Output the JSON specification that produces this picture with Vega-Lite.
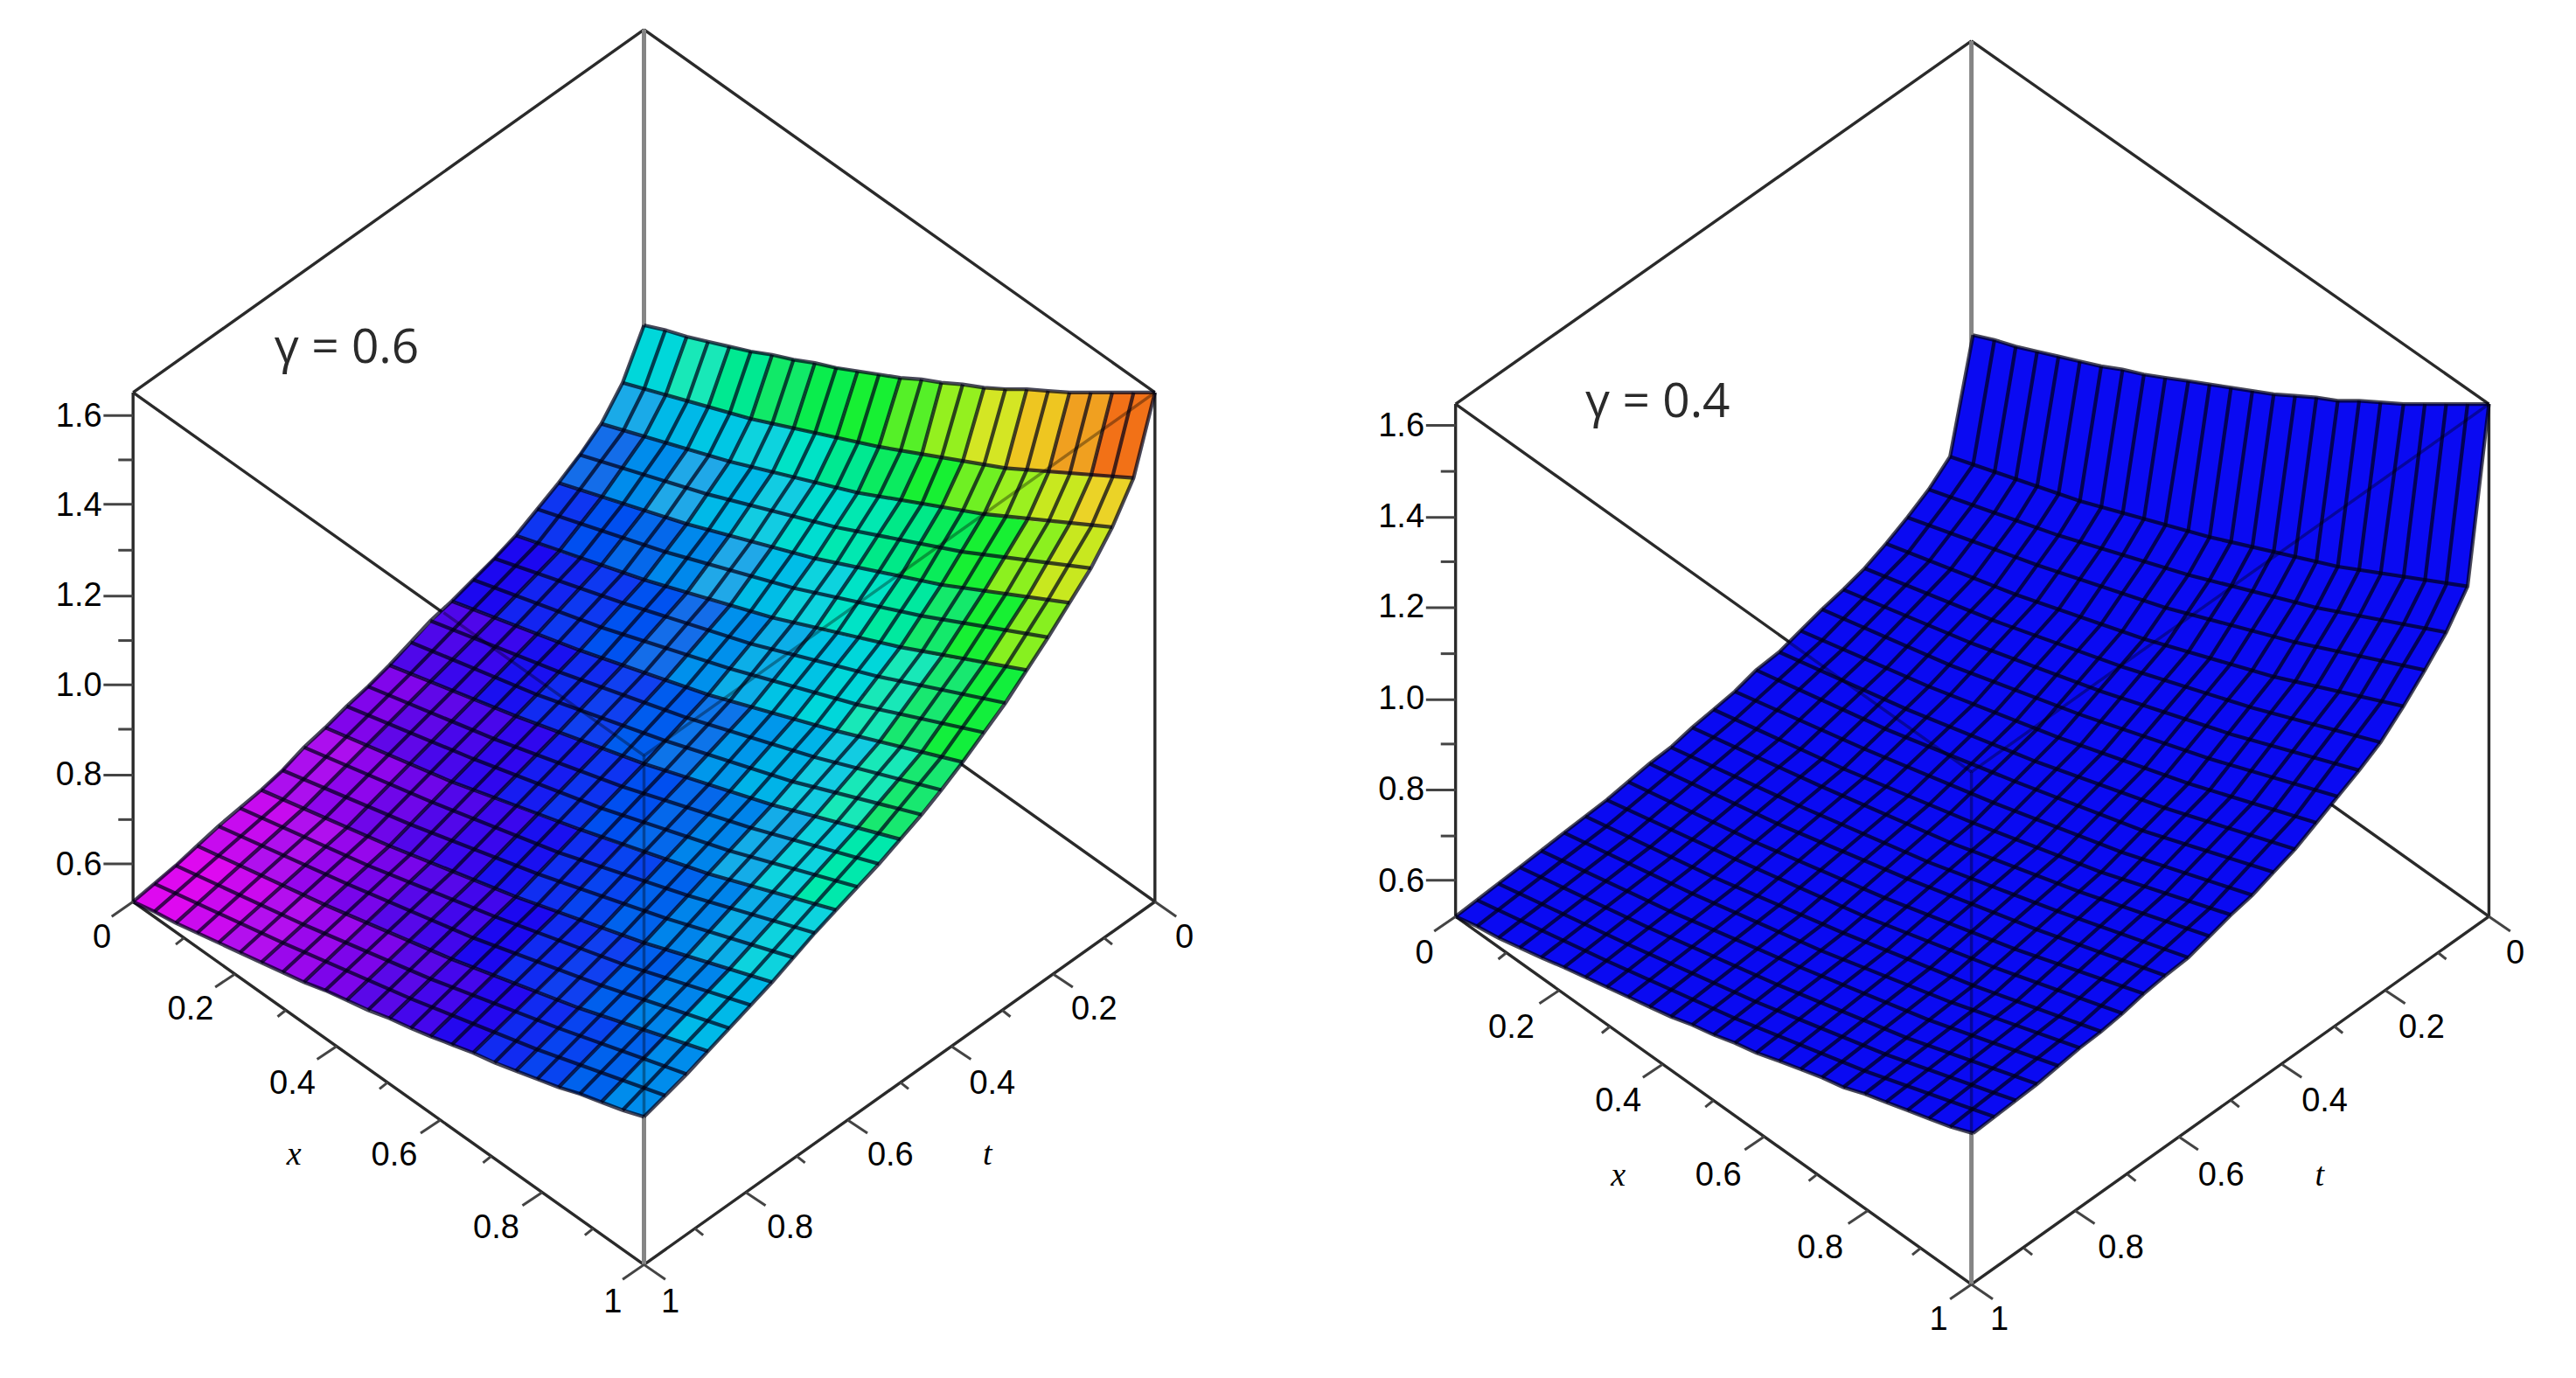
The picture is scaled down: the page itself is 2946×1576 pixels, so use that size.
{
"$schema":"https://vega.github.io/schema/vega-lite/v6.json",
"width":2946,"height":1576,"padding":0,"autosize":{"type":"fit","contains":"padding"},"background":"white",
"config":{"view":{"stroke":null}},
"encoding":{
"x":{"field":"x","type":"quantitative","axis":null,"scale":{"domain":[0,1568],"nice":false,"zero":false}},
"y":{"field":"y","type":"quantitative","axis":null,"scale":{"domain":[839,0],"nice":false,"zero":false}}
},
"layer":[
{"data":{"values":[
{"id":"a1","x":[392,81],"y":[18,239]},{"id":"a2","x":[392,703],"y":[18,239]},{"id":"a3","x":[81,392],"y":[239,460]},{"id":"a4","x":[703,392],"y":[549,328]},
{"id":"b1","x":[1200,886],"y":[25,246]},{"id":"b2","x":[1200,1515],"y":[25,246]},{"id":"b3","x":[886,1200],"y":[246,470]},{"id":"b4","x":[1515,1200],"y":[558,334]},
{"id":"a5","x":[81,81],"y":[239,549]},{"id":"a6","x":[703,703],"y":[239,549]},{"id":"a7","x":[81,392],"y":[549,770]},{"id":"a8","x":[703,392],"y":[549,770]},
{"id":"b5","x":[886,886],"y":[246,558]},{"id":"b6","x":[1515,1515],"y":[246,558]},{"id":"b7","x":[886,1200],"y":[558,782]},{"id":"b8","x":[1515,1200],"y":[558,782]}
]},"transform":[{"flatten":["x","y"]}],"mark":{"type":"line","order":null,"stroke":"#2a2a2a","strokeWidth":3.4},"encoding":{"detail":{"field":"id"}}},
{"data":{"values":[
{"id":"g1","x":[392,392],"y":[18,328]},{"id":"g2","x":[392,392],"y":[680,770]},{"id":"g3","x":[1200,1200],"y":[25,334]},{"id":"g4","x":[1200,1200],"y":[690,782]}
]},"transform":[{"flatten":["x","y"]}],"mark":{"type":"line","order":null,"stroke":"#858585","strokeWidth":5},"encoding":{"detail":{"field":"id"}}},
{"data":{"values":[
{"id":1,"h":125,"x":[392,418,405,379],"y":[198,205,241,233]},{"id":2,"h":140,"x":[418,444,431,405],"y":[205,211,248,241]},{"id":3,"h":155,"x":[444,470,457,431],"y":[211,216,255,248]},{"id":4,"h":170,"x":[470,496,483,457],"y":[216,221,261,255]},{"id":5,"h":185,"x":[496,522,509,483],"y":[221,226,267,261]},{"id":6,"h":195,"x":[522,548,535,509],"y":[226,230,272,267]},{"id":7,"h":205,"x":[548,573,561,535],"y":[230,233,277,272]},{"id":8,"h":225,"x":[573,599,586,561],"y":[233,236,281,277]},{"id":9,"h":250,"x":[599,625,612,586],"y":[236,237,285,281]},{"id":10,"h":270,"x":[625,651,638,612],"y":[237,239,288,285]},{"id":11,"h":285,"x":[651,677,664,638],"y":[239,239,290,288]},{"id":12,"h":300,"x":[677,703,690,664],"y":[239,239,291,290]},
{"id":13,"h":101,"x":[379,405,392,366],"y":[233,241,266,258]},{"id":14,"h":108,"x":[405,431,418,392],"y":[241,248,274,266]},{"id":15,"h":115,"x":[431,457,444,418],"y":[248,255,281,274]},{"id":16,"h":122,"x":[457,483,470,444],"y":[255,261,288,281]},{"id":17,"h":135,"x":[483,509,496,470],"y":[261,267,294,288]},{"id":18,"h":155,"x":[509,535,522,496],"y":[267,272,300,294]},{"id":19,"h":175,"x":[535,561,548,522],"y":[272,277,305,300]},{"id":20,"h":195,"x":[561,586,573,548],"y":[277,281,309,305]},{"id":21,"h":212,"x":[586,612,599,573],"y":[281,285,313,309]},{"id":22,"h":228,"x":[612,638,625,599],"y":[285,288,317,313]},{"id":23,"h":245,"x":[638,664,651,625],"y":[288,290,319,317]},{"id":24,"h":265,"x":[664,690,677,651],"y":[290,291,321,319]},
{"id":25,"h":84,"x":[366,392,366,340],"y":[258,266,303,294]},{"id":26,"h":92,"x":[392,418,392,366],"y":[266,274,311,303]},{"id":27,"h":100,"x":[418,444,418,392],"y":[274,281,319,311]},{"id":28,"h":108,"x":[444,470,444,418],"y":[281,288,326,319]},{"id":29,"h":118,"x":[470,496,470,444],"y":[288,294,333,326]},{"id":30,"h":130,"x":[496,522,496,470],"y":[294,300,340,333]},{"id":31,"h":143,"x":[522,548,522,496],"y":[300,305,345,340]},{"id":32,"h":158,"x":[548,573,548,522],"y":[305,309,351,345]},{"id":33,"h":178,"x":[573,599,573,548],"y":[309,313,356,351]},{"id":34,"h":195,"x":[599,625,599,573],"y":[313,317,360,356]},{"id":35,"h":222,"x":[625,651,625,599],"y":[317,319,364,360]},{"id":36,"h":245,"x":[651,677,651,625],"y":[319,321,367,364]},
{"id":37,"h":66,"x":[340,366,340,314],"y":[294,303,336,326]},{"id":38,"h":74,"x":[366,392,366,340],"y":[303,311,344,336]},{"id":39,"h":82,"x":[392,418,392,366],"y":[311,319,353,344]},{"id":40,"h":91,"x":[418,444,418,392],"y":[319,326,361,353]},{"id":41,"h":100,"x":[444,470,444,418],"y":[326,333,369,361]},{"id":42,"h":110,"x":[470,496,470,444],"y":[333,340,376,369]},{"id":43,"h":122,"x":[496,522,496,470],"y":[340,345,383,376]},{"id":44,"h":135,"x":[522,548,522,496],"y":[345,351,389,383]},{"id":45,"h":150,"x":[548,573,548,522],"y":[351,356,394,389]},{"id":46,"h":168,"x":[573,599,573,548],"y":[356,360,400,394]},{"id":47,"h":195,"x":[599,625,599,573],"y":[360,364,404,400]},{"id":48,"h":220,"x":[625,651,625,599],"y":[364,367,408,404]},
{"id":49,"h":55,"x":[314,340,301,275],"y":[326,336,376,366]},{"id":50,"h":60,"x":[340,366,327,301],"y":[336,344,386,376]},{"id":51,"h":67,"x":[366,392,353,327],"y":[344,353,396,386]},{"id":52,"h":75,"x":[392,418,379,353],"y":[353,361,405,396]},{"id":53,"h":84,"x":[418,444,405,379],"y":[361,369,414,405]},{"id":54,"h":93,"x":[444,470,431,405],"y":[369,376,423,414]},{"id":55,"h":103,"x":[470,496,457,431],"y":[376,383,431,423]},{"id":56,"h":113,"x":[496,522,483,457],"y":[383,389,438,431]},{"id":57,"h":125,"x":[522,548,509,483],"y":[389,394,445,438]},{"id":58,"h":140,"x":[548,573,535,509],"y":[394,400,452,445]},{"id":59,"h":165,"x":[573,599,561,535],"y":[400,404,458,452]},{"id":60,"h":192,"x":[599,625,586,561],"y":[404,408,464,458]},
{"id":61,"h":44,"x":[275,301,262,237],"y":[366,376,415,405]},{"id":62,"h":50,"x":[301,327,288,262],"y":[376,386,426,415]},{"id":63,"h":56,"x":[327,353,314,288],"y":[386,396,436,426]},{"id":64,"h":62,"x":[353,379,340,314],"y":[396,405,446,436]},{"id":65,"h":70,"x":[379,405,366,340],"y":[405,414,456,446]},{"id":66,"h":78,"x":[405,431,392,366],"y":[414,423,465,456]},{"id":67,"h":86,"x":[431,457,418,392],"y":[423,431,473,465]},{"id":68,"h":95,"x":[457,483,444,418],"y":[431,438,482,473]},{"id":69,"h":105,"x":[483,509,470,444],"y":[438,445,490,482]},{"id":70,"h":118,"x":[509,535,496,470],"y":[445,452,497,490]},{"id":71,"h":140,"x":[535,561,522,496],"y":[452,458,504,497]},{"id":72,"h":165,"x":[561,586,548,522],"y":[458,464,511,504]},
{"id":73,"h":32,"x":[237,262,224,198],"y":[405,415,454,443]},{"id":74,"h":39,"x":[262,288,250,224],"y":[415,426,465,454]},{"id":75,"h":46,"x":[288,314,275,250],"y":[426,436,476,465]},{"id":76,"h":52,"x":[314,340,301,275],"y":[436,446,486,476]},{"id":77,"h":58,"x":[340,366,327,301],"y":[446,456,496,486]},{"id":78,"h":65,"x":[366,392,353,327],"y":[456,465,505,496]},{"id":79,"h":74,"x":[392,418,379,353],"y":[465,473,515,505]},{"id":80,"h":82,"x":[418,444,405,379],"y":[473,482,523,515]},{"id":81,"h":90,"x":[444,470,431,405],"y":[482,490,532,523]},{"id":82,"h":102,"x":[470,496,457,431],"y":[490,497,540,532]},{"id":83,"h":122,"x":[496,522,483,457],"y":[497,504,547,540]},{"id":84,"h":145,"x":[522,548,509,483],"y":[504,511,554,547]},
{"id":85,"h":21,"x":[198,224,185,159],"y":[443,454,492,481]},{"id":86,"h":29,"x":[224,250,211,185],"y":[454,465,504,492]},{"id":87,"h":36,"x":[250,275,237,211],"y":[465,476,515,504]},{"id":88,"h":43,"x":[275,301,262,237],"y":[476,486,525,515]},{"id":89,"h":50,"x":[301,327,288,262],"y":[486,496,536,525]},{"id":90,"h":56,"x":[327,353,314,288],"y":[496,505,546,536]},{"id":91,"h":63,"x":[353,379,340,314],"y":[505,515,555,546]},{"id":92,"h":71,"x":[379,405,366,340],"y":[515,523,565,555]},{"id":93,"h":80,"x":[405,431,392,366],"y":[523,532,574,565]},{"id":94,"h":90,"x":[431,457,418,392],"y":[532,540,582,574]},{"id":95,"h":103,"x":[457,483,444,418],"y":[540,547,590,582]},{"id":96,"h":122,"x":[483,509,470,444],"y":[547,554,598,590]},
{"id":97,"h":13,"x":[159,185,146,120],"y":[481,492,527,515]},{"id":98,"h":20,"x":[185,211,172,146],"y":[492,504,539,527]},{"id":99,"h":27,"x":[211,237,198,172],"y":[504,515,551,539]},{"id":100,"h":34,"x":[237,262,224,198],"y":[515,525,562,551]},{"id":101,"h":41,"x":[262,288,250,224],"y":[525,536,573,562]},{"id":102,"h":48,"x":[288,314,275,250],"y":[536,546,584,573]},{"id":103,"h":55,"x":[314,340,301,275],"y":[546,555,594,584]},{"id":104,"h":62,"x":[340,366,327,301],"y":[555,565,604,594]},{"id":105,"h":70,"x":[366,392,353,327],"y":[565,574,614,604]},{"id":106,"h":79,"x":[392,418,379,353],"y":[574,582,623,614]},{"id":107,"h":90,"x":[418,444,405,379],"y":[582,590,632,623]},{"id":108,"h":108,"x":[444,470,431,405],"y":[590,598,640,632]},
{"id":109,"h":6,"x":[120,146,107,81],"y":[515,527,562,549]},{"id":110,"h":12,"x":[146,172,133,107],"y":[527,539,574,562]},{"id":111,"h":19,"x":[172,198,159,133],"y":[539,551,586,574]},{"id":112,"h":26,"x":[198,224,185,159],"y":[551,562,598,586]},{"id":113,"h":33,"x":[224,250,211,185],"y":[562,573,609,598]},{"id":114,"h":40,"x":[250,275,237,211],"y":[573,584,620,609]},{"id":115,"h":47,"x":[275,301,262,237],"y":[584,594,631,620]},{"id":116,"h":54,"x":[301,327,288,262],"y":[594,604,641,631]},{"id":117,"h":62,"x":[327,353,314,288],"y":[604,614,652,641]},{"id":118,"h":71,"x":[353,379,340,314],"y":[614,623,662,652]},{"id":119,"h":80,"x":[379,405,366,340],"y":[623,632,671,662]},{"id":120,"h":92,"x":[405,431,392,366],"y":[632,640,680,671]}
]},"transform":[{"flatten":["x","y"]}],
"mark":{"type":"line","order":null,"interpolate":"linear-closed","strokeWidth":0},
"encoding":{"detail":{"field":"id"},"fill":{"field":"h","type":"quantitative","legend":null,"scale":{"domain":[0,20,40,55,70,85,100,120,140,165,196,230,260,285,310],"range":["#f00cf0","#b010ee","#5a08e8","#1c08f0","#1040f0","#1a70e8","#20a8e8","#20d0e0","#18e8b8","#18e870","#18f030","#a0f020","#e8e030","#f0a020","#f04a20"]}}}},
{"data":{"values":[
{"id":"fill","x":[1201,1214,1227,1240,1253,1266,1279,1292,1305,1318,1332,1345,1358,1371,1384,1397,1410,1423,1436,1449,1463,1476,1489,1502,1515,1502,1489,1476,1463,1449,1436,1423,1410,1397,1384,1371,1358,1345,1332,1318,1305,1292,1279,1266,1253,1240,1227,1214,1201,1187,1174,1161,1148,1135,1122,1109,1096,1083,1069,1056,1043,1030,1017,1004,991,978,965,952,938,925,912,899,886,899,912,925,938,952,965,978,991,1004,1017,1030,1043,1056,1069,1083,1096,1109,1122,1135,1148,1161,1174,1187],
"y":[204,207,211,214,217,220,223,225,228,230,232,234,236,238,240,241,242,244,244,245,246,246,246,246,246,357,385,408,430,452,469,485,501,517,531,545,557,570,583,594,605,617,628,638,649,660,670,680,690,686,681,676,671,666,662,656,651,646,641,635,630,624,619,613,607,601,595,589,583,577,571,564,558,548,538,528,518,507,497,487,476,465,455,443,432,421,408,397,384,371,359,346,331,315,298,278]}
]},"transform":[{"flatten":["x","y"]}],
"mark":{"type":"line","order":null,"interpolate":"linear-closed","strokeWidth":0,"fill":"#0a0af2"},"encoding":{"detail":{"field":"id"}}},
{"data":{"values":[
{"id":"x0","x":[392,379,366,353,340,327,314,301,288,275,262,250,237,224,211,198,185,172,159,146,133,120,107,94,81],"y":[198,233,258,277,294,310,326,340,353,366,378,391,405,418,430,443,455,469,481,492,503,515,527,538,549]},
{"id":"x1","x":[405,392,379,353,327,288,250,172,94],"y":[201,237,263,298,331,371,410,487,555]},
{"id":"x2","x":[418,405,392,366,340,301,262,185,107],"y":[205,241,266,303,336,376,415,492,562]},
{"id":"x3","x":[431,418,405,379,353,314,275,198,120],"y":[208,245,270,307,340,381,421,498,568]},
{"id":"x4","x":[444,431,418,392,366,327,288,211,133],"y":[211,248,274,311,344,386,426,504,574]},
{"id":"x5","x":[457,444,431,405,379,340,301,224,146],"y":[214,252,278,315,349,391,431,509,580]},
{"id":"x6","x":[470,457,444,418,392,353,314,237,159],"y":[216,255,281,319,353,396,436,515,586]},
{"id":"x7","x":[483,470,457,431,405,366,327,250,172],"y":[219,258,285,323,357,401,441,520,592]},
{"id":"x8","x":[496,483,470,444,418,379,340,262,185],"y":[221,261,288,326,361,405,446,525,598]},
{"id":"x9","x":[509,496,483,457,431,392,353,275,198],"y":[224,264,291,330,365,410,451,531,603]},
{"id":"x10","x":[522,509,496,470,444,405,366,288,211],"y":[226,267,294,333,369,414,456,536,609]},
{"id":"x11","x":[535,522,509,483,457,418,379,301,224],"y":[228,270,297,336,372,418,460,541,615]},
{"id":"x12","x":[548,535,522,496,470,431,392,314,237],"y":[230,272,300,340,376,423,465,546,620]},
{"id":"x13","x":[561,548,535,509,483,444,405,327,250],"y":[231,275,302,343,379,427,469,551,626]},
{"id":"x14","x":[573,561,548,522,496,457,418,340,262],"y":[233,277,305,345,383,431,473,555,631]},
{"id":"x15","x":[586,573,561,535,509,470,431,353,275],"y":[234,279,307,348,386,434,478,560,636]},
{"id":"x16","x":[599,586,573,548,522,483,444,366,288],"y":[236,281,309,351,389,438,482,565,641]},
{"id":"x17","x":[612,599,586,561,535,496,457,379,301],"y":[237,283,311,353,392,442,486,569,647]},
{"id":"x18","x":[625,612,599,573,548,509,470,392,314],"y":[237,285,313,356,394,445,490,574,652]},
{"id":"x19","x":[638,625,612,586,561,522,483,405,327],"y":[238,286,315,358,397,449,493,578,657]},
{"id":"x20","x":[651,638,625,599,573,535,496,418,340],"y":[239,288,317,360,400,452,497,582,662]},
{"id":"x21","x":[664,651,638,612,586,548,509,431,353],"y":[239,289,318,362,402,455,501,586,666]},
{"id":"x22","x":[677,664,651,625,599,561,522,444,366],"y":[239,290,319,364,404,458,504,590,671]},
{"id":"x23","x":[690,677,664,638,612,573,535,457,379],"y":[239,291,321,365,406,461,507,594,676]},
{"id":"x24","x":[703,690,677,664,651,638,625,612,599,586,573,561,548,535,522,509,496,483,470,457,444,431,418,405,392],"y":[239,291,321,346,367,388,408,428,446,464,481,496,511,526,540,554,568,583,598,612,626,640,654,667,680]},
{"id":"t0","x":[392,405,418,431,444,457,470,483,496,509,522,535,548,561,573,586,599,612,625,638,651,664,677,690,703],"y":[198,201,205,208,211,214,216,219,221,224,226,228,230,231,233,234,236,237,237,238,239,239,239,239,239]},
{"id":"t1","x":[379,457,535,612,690],"y":[233,255,272,285,291]},
{"id":"t2","x":[366,444,522,599,677],"y":[258,281,300,313,321]},
{"id":"t3","x":[353,431,509,586,664],"y":[277,301,321,336,346]},
{"id":"t4","x":[340,418,496,573,651],"y":[294,319,340,356,367]},
{"id":"t5","x":[327,405,483,561,638],"y":[310,336,358,375,388]},
{"id":"t6","x":[314,392,470,548,625],"y":[326,353,376,394,408]},
{"id":"t7","x":[301,379,457,535,612],"y":[340,367,392,412,428]},
{"id":"t8","x":[288,366,444,522,599],"y":[353,382,407,429,446]},
{"id":"t9","x":[275,353,431,509,586],"y":[366,396,423,445,464]},
{"id":"t10","x":[262,340,418,496,573],"y":[378,409,437,461,481]},
{"id":"t11","x":[250,327,405,483,561],"y":[391,423,451,476,496]},
{"id":"t12","x":[237,314,392,470,548],"y":[405,436,465,490,511]},
{"id":"t13","x":[224,301,379,457,535],"y":[418,450,479,504,526]},
{"id":"t14","x":[211,288,366,444,522],"y":[430,462,492,518,540]},
{"id":"t15","x":[198,275,353,431,509],"y":[443,476,505,532,554]},
{"id":"t16","x":[185,262,340,418,496],"y":[455,488,519,545,568]},
{"id":"t17","x":[172,250,327,405,483],"y":[469,502,532,559,583]},
{"id":"t18","x":[159,237,314,392,470],"y":[481,515,546,574,598]},
{"id":"t19","x":[146,224,301,379,457],"y":[492,527,558,587,612]},
{"id":"t20","x":[133,211,288,366,444],"y":[503,538,571,600,626]},
{"id":"t21","x":[120,198,275,353,431],"y":[515,551,584,614,640]},
{"id":"t22","x":[107,185,262,340,418],"y":[527,563,596,626,654]},
{"id":"t23","x":[94,172,250,327,405],"y":[538,574,608,639,667]},
{"id":"t24","x":[81,94,107,120,133,146,159,172,185,198,211,224,237,250,262,275,288,301,314,327,340,353,366,379,392],"y":[549,555,562,568,574,580,586,592,598,603,609,615,620,626,631,636,641,647,652,657,662,666,671,676,680]},
{"id":"rx0","x":[1201,1187,1174,1161,1148,1135,1122,1109,1096,1083,1069,1056,1043,1030,1017,1004,991,978,965,952,938,925,912,899,886],"y":[204,278,298,315,331,346,359,371,384,397,408,421,432,443,455,465,476,487,497,507,518,528,538,548,558]},
{"id":"rx1","x":[1214,1201,1187,1161,1109,1056,978,899],"y":[207,283,303,337,390,438,503,564]},
{"id":"rx2","x":[1227,1214,1201,1174,1122,1069,991,912],"y":[211,288,307,342,395,444,510,571]},
{"id":"rx3","x":[1240,1227,1214,1187,1135,1083,1004,925],"y":[214,292,312,347,401,450,516,577]},
{"id":"rx4","x":[1253,1240,1227,1201,1148,1096,1017,938],"y":[217,296,317,352,407,456,522,583]},
{"id":"rx5","x":[1266,1253,1240,1214,1161,1109,1030,952],"y":[220,301,321,357,412,462,528,589]},
{"id":"rx6","x":[1279,1266,1253,1227,1174,1122,1043,965],"y":[223,305,326,362,418,468,534,595]},
{"id":"rx7","x":[1292,1279,1266,1240,1187,1135,1056,978],"y":[225,309,330,366,423,473,540,601]},
{"id":"rx8","x":[1305,1292,1279,1253,1201,1148,1069,991],"y":[228,313,334,371,429,479,546,607]},
{"id":"rx9","x":[1318,1305,1292,1266,1214,1161,1083,1004],"y":[230,316,338,376,434,485,551,613]},
{"id":"rx10","x":[1332,1318,1305,1279,1227,1174,1096,1017],"y":[232,320,342,380,439,490,557,619]},
{"id":"rx11","x":[1345,1332,1318,1292,1240,1187,1109,1030],"y":[234,323,346,384,444,495,563,624]},
{"id":"rx12","x":[1358,1345,1332,1305,1253,1201,1122,1043],"y":[236,327,350,389,449,501,568,630]},
{"id":"rx13","x":[1371,1358,1345,1318,1266,1214,1135,1056],"y":[238,330,353,393,454,506,574,635]},
{"id":"rx14","x":[1384,1371,1358,1332,1279,1227,1148,1069],"y":[240,333,357,397,459,511,579,641]},
{"id":"rx15","x":[1397,1384,1371,1345,1292,1240,1161,1083],"y":[241,336,360,401,463,516,584,646]},
{"id":"rx16","x":[1410,1397,1384,1358,1305,1253,1174,1096],"y":[242,339,363,404,468,521,590,651]},
{"id":"rx17","x":[1423,1410,1397,1371,1318,1266,1187,1109],"y":[244,342,367,408,472,526,595,656]},
{"id":"rx18","x":[1436,1423,1410,1384,1332,1279,1201,1122],"y":[244,345,370,412,477,531,600,662]},
{"id":"rx19","x":[1449,1436,1423,1397,1345,1292,1214,1135],"y":[245,347,372,415,481,535,605,666]},
{"id":"rx20","x":[1463,1449,1436,1410,1358,1305,1227,1148],"y":[246,350,375,418,485,540,610,671]},
{"id":"rx21","x":[1476,1463,1449,1423,1371,1318,1240,1161],"y":[246,352,378,422,489,544,614,676]},
{"id":"rx22","x":[1489,1476,1463,1436,1384,1332,1253,1174],"y":[246,354,380,425,493,549,619,681]},
{"id":"rx23","x":[1502,1489,1476,1449,1397,1345,1266,1187],"y":[246,356,383,428,497,553,624,686]},
{"id":"rx24","x":[1515,1502,1489,1476,1463,1449,1436,1423,1410,1397,1384,1371,1358,1345,1332,1318,1305,1292,1279,1266,1253,1240,1227,1214,1201],"y":[246,357,385,408,430,452,469,485,501,517,531,545,557,570,583,594,605,617,628,638,649,660,670,680,690]},
{"id":"rt0","x":[1201,1214,1227,1240,1253,1266,1279,1292,1305,1318,1332,1345,1358,1371,1384,1397,1410,1423,1436,1449,1463,1476,1489,1502,1515],"y":[204,207,211,214,217,220,223,225,228,230,232,234,236,238,240,241,242,244,244,245,246,246,246,246,246]},
{"id":"rt1","x":[1187,1266,1345,1423,1502],"y":[278,305,327,345,357]},
{"id":"rt2","x":[1174,1253,1332,1410,1489],"y":[298,326,350,370,385]},
{"id":"rt3","x":[1161,1240,1318,1397,1476],"y":[315,344,370,391,408]},
{"id":"rt4","x":[1148,1227,1305,1384,1463],"y":[331,362,389,412,430]},
{"id":"rt5","x":[1135,1214,1292,1371,1449],"y":[346,378,406,431,452]},
{"id":"rt6","x":[1122,1201,1279,1358,1436],"y":[359,392,421,447,469]},
{"id":"rt7","x":[1109,1187,1266,1345,1423],"y":[371,405,435,462,485]},
{"id":"rt8","x":[1096,1174,1253,1332,1410],"y":[384,418,449,477,501]},
{"id":"rt9","x":[1083,1161,1240,1318,1397],"y":[397,432,464,492,517]},
{"id":"rt10","x":[1069,1148,1227,1305,1384],"y":[408,444,476,506,531]},
{"id":"rt11","x":[1056,1135,1214,1292,1371],"y":[421,456,489,519,545]},
{"id":"rt12","x":[1043,1122,1201,1279,1358],"y":[432,468,501,531,557]},
{"id":"rt13","x":[1030,1109,1187,1266,1345],"y":[443,479,513,543,570]},
{"id":"rt14","x":[1017,1096,1174,1253,1332],"y":[455,491,525,555,583]},
{"id":"rt15","x":[1004,1083,1161,1240,1318],"y":[465,502,535,566,594]},
{"id":"rt16","x":[991,1069,1148,1227,1305],"y":[476,513,547,578,605]},
{"id":"rt17","x":[978,1056,1135,1214,1292],"y":[487,523,558,589,617]},
{"id":"rt18","x":[965,1043,1122,1201,1279],"y":[497,534,568,600,628]},
{"id":"rt19","x":[952,1030,1109,1187,1266],"y":[507,544,579,610,638]},
{"id":"rt20","x":[938,1017,1096,1174,1253],"y":[518,555,589,621,649]},
{"id":"rt21","x":[925,1004,1083,1161,1240],"y":[528,565,600,632,660]},
{"id":"rt22","x":[912,991,1069,1148,1227],"y":[538,575,610,642,670]},
{"id":"rt23","x":[899,978,1056,1135,1214],"y":[548,585,620,652,680]},
{"id":"rt24","x":[886,899,912,925,938,952,965,978,991,1004,1017,1030,1043,1056,1069,1083,1096,1109,1122,1135,1148,1161,1174,1187,1201],"y":[558,564,571,577,583,589,595,601,607,613,619,624,630,635,641,646,651,656,662,666,671,676,681,686,690]}
]},"transform":[{"flatten":["x","y"]}],"mark":{"type":"line","order":null,"stroke":"#000018","strokeWidth":4.2,"strokeOpacity":0.72},"encoding":{"detail":{"field":"id"}}},
{"data":{"values":[
{"id":"o1","x":[270,392],"y":[373,460]},{"id":"o2","x":[703,392],"y":[239,460]},{"id":"o3","x":[392,392],"y":[460,680]},
{"id":"o4","x":[1089,1200],"y":[391,470]},{"id":"o5","x":[1515,1200],"y":[246,470]},{"id":"o6","x":[1200,1200],"y":[470,690]}
]},"transform":[{"flatten":["x","y"]}],"mark":{"type":"line","order":null,"stroke":"#000000","strokeWidth":3.5,"strokeOpacity":0.35},"encoding":{"detail":{"field":"id"}}},
{"data":{"values":[
{"id":"z1","x":[63,81],"y":[253,253]},{"id":"z2","x":[72,81],"y":[280,280]},{"id":"z3","x":[63,81],"y":[307,307]},{"id":"z4","x":[72,81],"y":[335,335]},{"id":"z5","x":[63,81],"y":[363,363]},{"id":"z6","x":[72,81],"y":[390,390]},{"id":"z7","x":[63,81],"y":[417,417]},{"id":"z8","x":[72,81],"y":[444,444]},{"id":"z9","x":[63,81],"y":[472,472]},{"id":"z10","x":[72,81],"y":[499,499]},{"id":"z11","x":[63,81],"y":[526,526]},
{"id":"xa0","x":[81,68],"y":[549,558]},{"id":"xa1","x":[112,107],"y":[571,575]},{"id":"xa2","x":[143,131],"y":[593,601]},{"id":"xa3","x":[174,169],"y":[615,619]},{"id":"xa4","x":[205,193],"y":[637,645]},{"id":"xa5","x":[236,231],"y":[659,663]},{"id":"xa6","x":[268,256],"y":[682,690]},{"id":"xa7","x":[299,294],"y":[704,708]},{"id":"xa8","x":[330,318],"y":[726,734]},{"id":"xa9","x":[361,356],"y":[748,752]},{"id":"xa10","x":[392,379],"y":[770,779]},
{"id":"ta0","x":[703,716],"y":[549,558]},{"id":"ta1","x":[672,677],"y":[571,575]},{"id":"ta2","x":[641,653],"y":[593,601]},{"id":"ta3","x":[610,615],"y":[615,619]},{"id":"ta4","x":[579,591],"y":[637,645]},{"id":"ta5","x":[548,553],"y":[659,663]},{"id":"ta6","x":[516,528],"y":[682,690]},{"id":"ta7","x":[485,490],"y":[704,708]},{"id":"ta8","x":[454,466],"y":[726,734]},{"id":"ta9","x":[423,428],"y":[748,752]},{"id":"ta10","x":[392,405],"y":[770,779]},
{"id":"rz1","x":[868,886],"y":[259,259]},{"id":"rz2","x":[877,886],"y":[287,287]},{"id":"rz3","x":[868,886],"y":[315,315]},{"id":"rz4","x":[877,886],"y":[342,342]},{"id":"rz5","x":[868,886],"y":[370,370]},{"id":"rz6","x":[877,886],"y":[398,398]},{"id":"rz7","x":[868,886],"y":[426,426]},{"id":"rz8","x":[877,886],"y":[453,453]},{"id":"rz9","x":[868,886],"y":[481,481]},{"id":"rz10","x":[877,886],"y":[509,509]},{"id":"rz11","x":[868,886],"y":[536,536]},
{"id":"rxa0","x":[886,873],"y":[558,567]},{"id":"rxa1","x":[917,912],"y":[580,584]},{"id":"rxa2","x":[949,937],"y":[603,611]},{"id":"rxa3","x":[980,975],"y":[625,629]},{"id":"rxa4","x":[1012,1000],"y":[648,656]},{"id":"rxa5","x":[1043,1038],"y":[670,674]},{"id":"rxa6","x":[1074,1062],"y":[692,700]},{"id":"rxa7","x":[1106,1101],"y":[715,719]},{"id":"rxa8","x":[1137,1125],"y":[737,745]},{"id":"rxa9","x":[1169,1164],"y":[760,764]},{"id":"rxa10","x":[1200,1187],"y":[782,791]},
{"id":"rta0","x":[1515,1528],"y":[558,567]},{"id":"rta1","x":[1484,1489],"y":[580,584]},{"id":"rta2","x":[1452,1464],"y":[603,611]},{"id":"rta3","x":[1421,1426],"y":[625,629]},{"id":"rta4","x":[1389,1401],"y":[648,656]},{"id":"rta5","x":[1358,1363],"y":[670,674]},{"id":"rta6","x":[1326,1338],"y":[692,700]},{"id":"rta7","x":[1295,1300],"y":[715,719]},{"id":"rta8","x":[1263,1275],"y":[737,745]},{"id":"rta9","x":[1232,1237],"y":[760,764]},{"id":"rta10","x":[1200,1213],"y":[782,791]}
]},"transform":[{"flatten":["x","y"]}],"mark":{"type":"line","order":null,"stroke":"#444444","strokeWidth":3},"encoding":{"detail":{"field":"id"}}},
{"data":{"values":[
{"x":48,"y":254,"s":"1.6"},{"x":48,"y":308,"s":"1.4"},{"x":48,"y":363,"s":"1.2"},{"x":48,"y":418,"s":"1.0"},{"x":48,"y":472,"s":"0.8"},{"x":48,"y":527,"s":"0.6"},
{"x":62,"y":571,"s":"0"},{"x":116,"y":615,"s":"0.2"},{"x":178,"y":660,"s":"0.4"},{"x":240,"y":704,"s":"0.6"},{"x":302,"y":748,"s":"0.8"},{"x":373,"y":793,"s":"1"},
{"x":721,"y":571,"s":"0"},{"x":666,"y":615,"s":"0.2"},{"x":604,"y":660,"s":"0.4"},{"x":542,"y":704,"s":"0.6"},{"x":481,"y":748,"s":"0.8"},{"x":408,"y":793,"s":"1"},
{"x":853,"y":260,"s":"1.6"},{"x":853,"y":315,"s":"1.4"},{"x":853,"y":370,"s":"1.2"},{"x":853,"y":426,"s":"1.0"},{"x":853,"y":481,"s":"0.8"},{"x":853,"y":537,"s":"0.6"},
{"x":867,"y":581,"s":"0"},{"x":920,"y":626,"s":"0.2"},{"x":985,"y":671,"s":"0.4"},{"x":1046,"y":716,"s":"0.6"},{"x":1108,"y":760,"s":"0.8"},{"x":1180,"y":804,"s":"1"},
{"x":1531,"y":581,"s":"0"},{"x":1474,"y":626,"s":"0.2"},{"x":1415,"y":671,"s":"0.4"},{"x":1352,"y":716,"s":"0.6"},{"x":1291,"y":760,"s":"0.8"},{"x":1217,"y":804,"s":"1"}
]},"mark":{"type":"text","font":"Liberation Sans","fontSize":38,"align":"center","baseline":"middle","color":"#000000"},"encoding":{"text":{"field":"s"}}},
{"data":{"values":[
{"x":179,"y":703,"s":"x"},{"x":601,"y":703,"s":"t"},{"x":985,"y":716,"s":"x"},{"x":1412,"y":716,"s":"t"}
]},"mark":{"type":"text","font":"Liberation Serif","fontStyle":"italic","fontSize":38,"align":"center","baseline":"middle","color":"#000000"},"encoding":{"text":{"field":"s"}}},
{"data":{"values":[
{"x":167,"y":212,"s":"γ = 0.6"},{"x":965,"y":245,"s":"γ = 0.4"}
]},"mark":{"type":"text","font":"Open Sans","fontSize":55,"align":"left","baseline":"middle","color":"#2a2a2a"},"encoding":{"text":{"field":"s"}}}
]
}
